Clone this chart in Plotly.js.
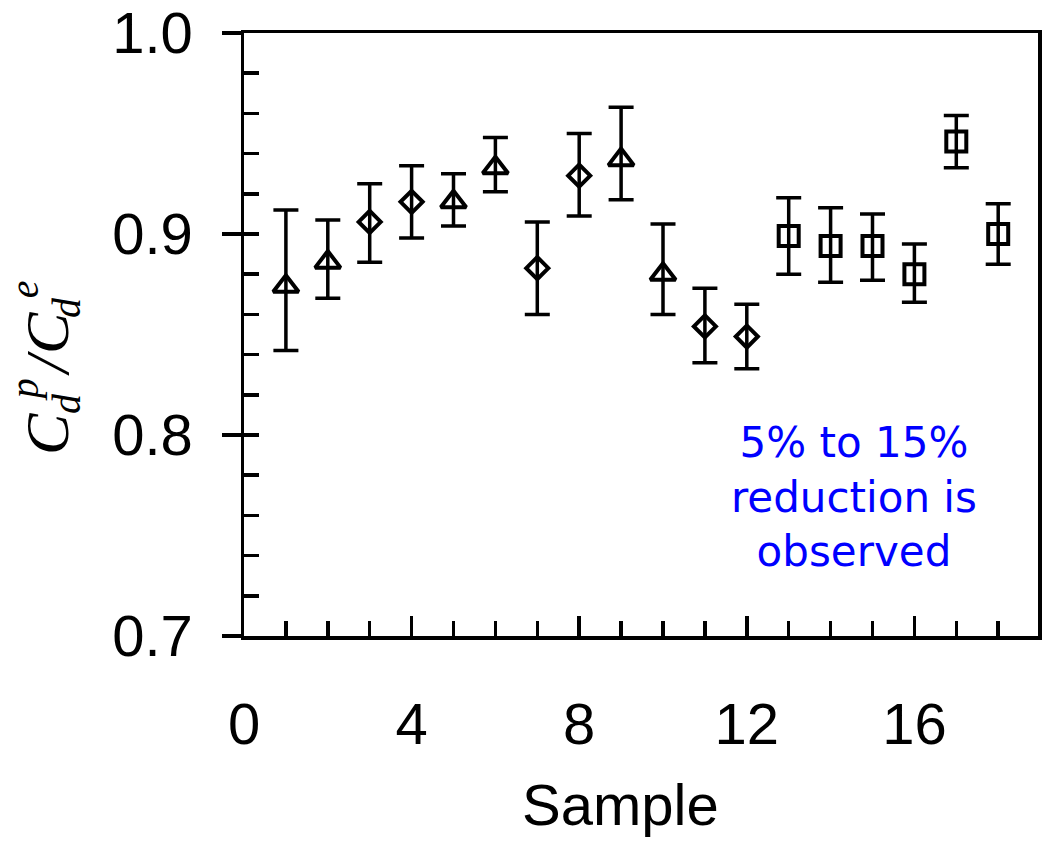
<!DOCTYPE html>
<html>
<head>
<meta charset="utf-8">
<script src="https://cdn.plot.ly/plotly-3.0.1.min.js"></script>
<style>html,body{margin:0;padding:0;background:#fff;}#chart{width:1048px;height:842px;}</style>
</head>
<body>
<div id="chart"></div>
<script>
// ---- data ----
const triX  = [1, 2, 5, 6, 9, 10];
const triY  = [0.874, 0.886, 0.916, 0.933, 0.937, 0.880];
const triHi = [0.912, 0.907, 0.930, 0.948, 0.963, 0.905];
const triLo = [0.842, 0.868, 0.904, 0.921, 0.917, 0.860];

const diaX  = [3, 4, 7, 8, 11, 12];
const diaY  = [0.906, 0.916, 0.883, 0.929, 0.854, 0.849];
const diaHi = [0.925, 0.934, 0.906, 0.950, 0.873, 0.865];
const diaLo = [0.886, 0.898, 0.860, 0.909, 0.836, 0.833];

const sqX  = [13, 14, 15, 16, 17, 18];
const sqY  = [0.899, 0.894, 0.894, 0.880, 0.946, 0.900];
const sqHi = [0.918, 0.913, 0.910, 0.895, 0.959, 0.915];
const sqLo = [0.880, 0.876, 0.877, 0.866, 0.933, 0.885];

const xTickVals = [0, 4, 8, 12, 16];
const xTickText = ['0', '4', '8', '12', '16'];
const yTickVals = [0.7, 0.8, 0.9, 1.0];
const yTickText = ['0.7', '0.8', '0.9', '1.0'];

const xLabel = 'Sample';
const noteText = '5% to 15%<br>reduction is<br>observed';

// ---- layout geometry ----
const W = 1048, H = 842;
const M = {l: 244, r: 9.5, t: 33, b: 206};
const PW = W - M.l - M.r, PH = H - M.t - M.b;
const px = X => (X - M.l) / PW;
const py = Y => (H - M.b - Y) / PH;
const LW = 3.5;

function errs(y, hi, lo) {
  return {
    type: 'data', symmetric: false,
    array: y.map((v, i) => +(hi[i] - v).toFixed(4)),
    arrayminus: y.map((v, i) => +(v - lo[i]).toFixed(4)),
    color: '#000', thickness: LW, width: 12.5
  };
}

function series(x, y, hi, lo, symbol, size, yaxis) {
  return {
    type: 'scatter', mode: 'markers', x: x, y: y, yaxis: yaxis || 'y',
    marker: {symbol: symbol, size: size, color: 'rgba(255,255,255,0)',
             line: {color: '#000', width: 4}},
    error_y: errs(y, hi, lo),
    showlegend: false, hoverinfo: 'x+y'
  };
}

const data = [
  series(triX, triY, triHi, triLo, 'triangle-up', 22),
  series(diaX, diaY, diaHi, diaLo, 'diamond', 17),
  series(sqX, sqY, sqHi, sqLo, 'square', 20, 'y2')
];

const tickFont = {family: 'Liberation Sans, Arial, sans-serif', size: 58, color: '#000'};
const serif = 'Liberation Serif, Times New Roman, serif';

function rot(text, X, Y, size) {
  return {
    text: '<i>' + text + '</i>', xref: 'paper', yref: 'paper',
    x: px(X), y: py(Y), xanchor: 'center', yanchor: 'middle',
    textangle: -90, showarrow: false,
    font: {family: serif, size: size, color: '#000', style: 'italic'}
  };
}

const layout = {
  width: W, height: H,
  margin: M,
  paper_bgcolor: '#fff', plot_bgcolor: '#fff',
  showlegend: false,
  xaxis: {
    range: [0, 18.95], tickmode: 'array', tickvals: xTickVals, ticktext: xTickText,
    ticks: 'inside', ticklen: 20, tickwidth: LW, tickcolor: '#000',
    minor: {dtick: 1, tick0: 0, ticks: 'inside', ticklen: 15, tickwidth: LW, tickcolor: '#000'},
    showline: true, linewidth: LW, linecolor: '#000', mirror: true,
    showgrid: false, zeroline: false,
    tickfont: tickFont, ticklabelstandoff: 35
  },
  yaxis: {
    range: [0.7, 1.0], tickmode: 'array', tickvals: yTickVals, ticktext: yTickText,
    ticks: 'outside', ticklen: 19, tickwidth: LW, tickcolor: '#000',
    showline: true, linewidth: LW, linecolor: '#000', mirror: true,
    showgrid: false, zeroline: false,
    tickfont: tickFont, ticklabelstandoff: 17
  },
  yaxis2: {
    range: [0.7, 1.0], overlaying: 'y', side: 'left', anchor: 'x',
    tickmode: 'linear', tick0: 0.7, dtick: 0.02,
    ticks: 'inside', ticklen: 15, tickwidth: LW, tickcolor: '#000',
    showticklabels: false, showline: false, showgrid: false, zeroline: false
  },
  annotations: [
    {text: xLabel, xref: 'paper', yref: 'paper', x: px(620.5), y: py(804),
     xanchor: 'center', yanchor: 'middle', showarrow: false,
     font: {family: 'Liberation Sans, Arial, sans-serif', size: 58, color: '#000'}},
    {text: noteText, xref: 'paper', yref: 'paper', x: px(854), y: py(497),
     xanchor: 'center', yanchor: 'middle', align: 'center', showarrow: false,
     font: {family: 'DejaVu Sans, Verdana, sans-serif', size: 42, color: '#0000ff'}},
    // y-axis title  C_d^p / C_d^e  (sub/sup stacked)
    rot('C', 47, 434, 62),
    rot('d', 66, 404, 40),
    rot('p', 24, 390, 40),
    rot('/', 47, 364, 62),
    rot('C', 47, 333, 62),
    rot('d', 66, 308, 40),
    rot('e', 24, 289, 40)
  ]
};

Plotly.newPlot('chart', data, layout, {staticPlot: true, displayModeBar: false});
</script>
</body>
</html>
